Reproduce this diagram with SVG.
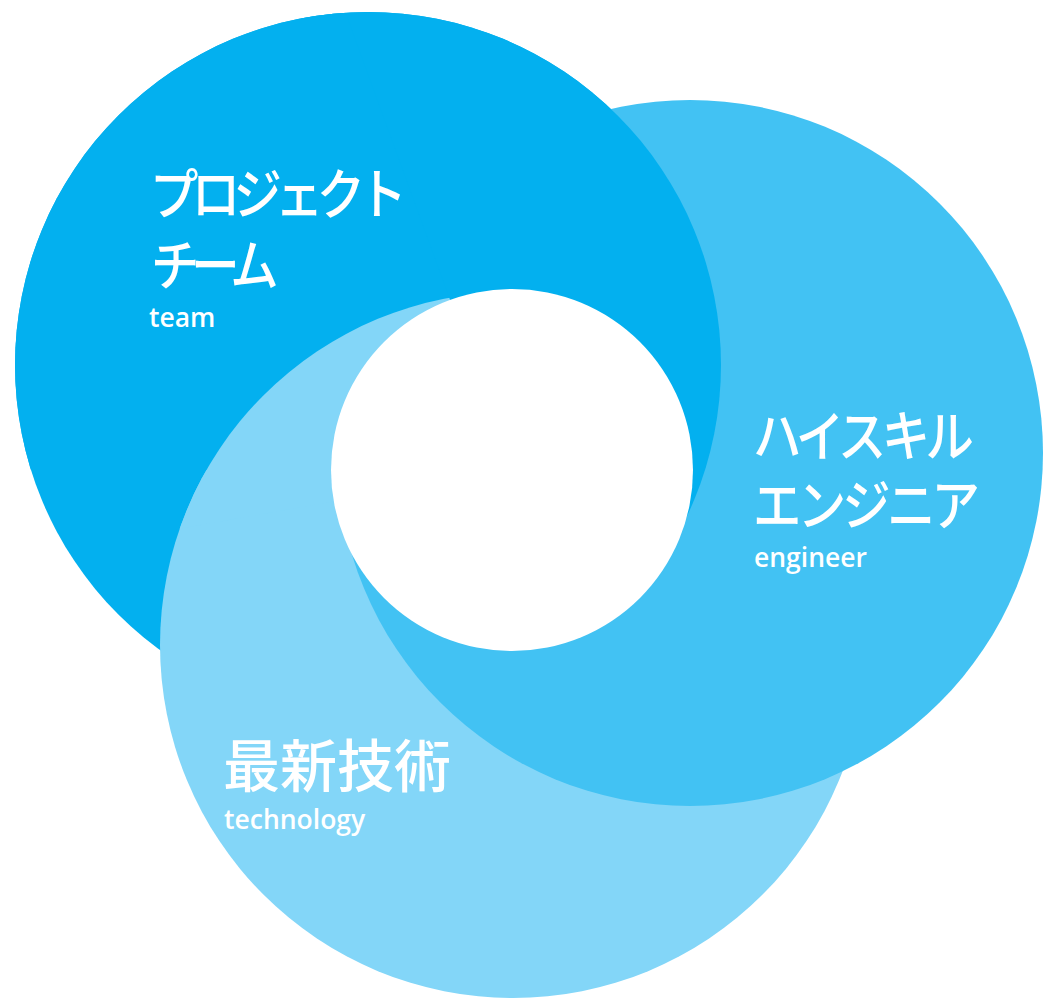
<svg xmlns="http://www.w3.org/2000/svg" xmlns:xlink="http://www.w3.org/1999/xlink" width="1043" height="999" viewBox="0 0 1043 999">
<style>
.c1{fill:#03b0ef}
.c2{fill:#42c2f3}
.c3{fill:#83d6f8}
.jp{font-family:"Noto Sans CJK JP","Noto Sans",sans-serif;font-weight:500;fill:#ffffff;font-size:55px}
.en{font-family:"Open Sans","Noto Sans",sans-serif;font-weight:600;fill:#ffffff;font-size:26.5px}
</style>
<defs>
<circle id="C1" cx="368" cy="365" r="353"/>
<circle id="C2" cx="690" cy="453" r="353"/>
<circle id="C3" cx="513" cy="645" r="353"/>
<clipPath id="secA"><polygon points="512,470 -640,-2000 3000,-2000 3000,2558"/></clipPath>
<clipPath id="secB"><polygon points="512,470 -2000,470 -2000,-2000 -387,-2000"/></clipPath>
<clipPath id="secB3"><polygon points="512,470 -2000,913 -2000,-2000 -387,-2000"/></clipPath>
</defs>
<g id="rings">
<g id="base">
<use xlink:href="#C1" class="c1"/>
<use xlink:href="#C3" class="c3"/>
<use xlink:href="#C2" class="c2"/>
</g>
<g id="sector-a" clip-path="url(#secA)">
<use xlink:href="#C1" class="c1"/>
</g>
<g id="sector-b">
<use xlink:href="#C1" class="c1" clip-path="url(#secB)"/>
<use xlink:href="#C3" class="c3" clip-path="url(#secB3)"/>
</g>
<circle id="center" cx="512" cy="470" r="181" fill="#ffffff"/>
</g>
<g id="node-team">
<text class="jp" transform="translate(150,214) scale(0.88,1)" textLength="292" lengthAdjust="spacing">プロジェクト</text>
<text class="jp" transform="translate(151,285) scale(0.88,1)" textLength="145" lengthAdjust="spacing">チーム</text>
<text class="en" x="149" y="327">team</text>
</g>
<g id="node-engineer">
<text class="jp" transform="translate(753,456) scale(0.88,1)" textLength="251" lengthAdjust="spacing">ハイスキル</text>
<text class="jp" transform="translate(753,525) scale(0.88,1)" textLength="258" lengthAdjust="spacing">エンジニア</text>
<text class="en" x="754" y="567">engineer</text>
</g>
<g id="node-technology">
<text class="jp" x="223" y="787" style="font-size:57px">最新技術</text>
<text class="en" x="224" y="829">technology</text>
</g>
</svg>
